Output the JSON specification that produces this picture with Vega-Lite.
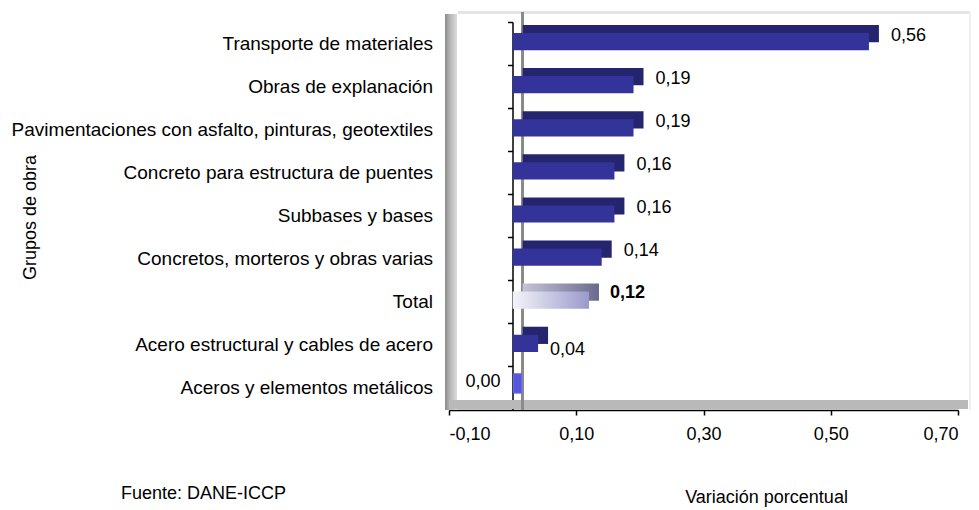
{
  "$schema": "https://vega.github.io/schema/vega-lite/v6.json",
  "width": 509,
  "height": 388,
  "autosize": {"type": "none"},
  "padding": {"left": 449, "top": 22, "right": 21, "bottom": 100},
  "background": "white",
  "title": {
    "text": "Fuente: DANE-ICCP",
    "orient": "bottom",
    "anchor": "start",
    "frame": "group",
    "dx": -328,
    "dy": -16,
    "baseline": "middle",
    "font": "Liberation Sans",
    "fontSize": 18,
    "fontWeight": "normal",
    "color": "black"
  },
  "data": {
    "values": [
      {"grupo": "Transporte de materiales", "valor": 0.56},
      {"grupo": "Obras de explanación", "valor": 0.19},
      {"grupo": "Pavimentaciones con asfalto, pinturas, geotextiles", "valor": 0.19},
      {"grupo": "Concreto para estructura de puentes", "valor": 0.16},
      {"grupo": "Subbases y bases", "valor": 0.16},
      {"grupo": "Concretos, morteros y obras varias", "valor": 0.14},
      {"grupo": "Total", "valor": 0.12},
      {"grupo": "Acero estructural y cables de acero", "valor": 0.04},
      {"grupo": "Aceros y elementos metálicos", "valor": 0.0}
    ]
  },
  "encoding": {
    "y": {
      "field": "grupo",
      "type": "nominal",
      "sort": null,
      "scale": {
        "paddingInner": 0,
        "paddingOuter": 0,
        "domain": [
          "Transporte de materiales",
          "Obras de explanación",
          "Pavimentaciones con asfalto, pinturas, geotextiles",
          "Concreto para estructura de puentes",
          "Subbases y bases",
          "Concretos, morteros y obras varias",
          "Total",
          "Acero estructural y cables de acero",
          "Aceros y elementos metálicos"
        ]
      },
      "axis": {
        "title": "Grupos de obra",
        "titleX": -482,
        "titleY": 195,
        "titleAngle": -90,
        "titleAlign": "center",
        "titleBaseline": "middle",
        "offset": -63.5,
        "bandPosition": 0,
        "tickSize": 5,
        "labelPadding": 75,
        "labelLimit": 1000,
        "labelFontSize": 19
      }
    }
  },
  "layer": [
    {
      "mark": {"type": "rect", "color": {"gradient": "linear", "x1": 0, "x2": 1, "y1": 0, "y2": 0, "stops": [{"offset": 0, "color": "#8c8c8c"}, {"offset": 0.4, "color": "#b4b4b4"}, {"offset": 1, "color": "#dcdcdc"}]}, "xOffset": -4, "x2Offset": 8, "yOffset": -8, "y2Offset": -10},
      "encoding": {"x": {"datum": -0.1, "type": "quantitative"}, "x2": {"datum": -0.1}, "y": null}
    },
    {
      "mark": {"type": "rule", "color": "#b9b9b9", "strokeWidth": 8, "yOffset": 16, "x2Offset": 10},
      "encoding": {"x": {"datum": -0.1, "type": "quantitative"}, "x2": {"datum": 0.7}, "y": {"datum": "Aceros y elementos metálicos"}}
    },
    {
      "mark": {"type": "rule", "color": "#e4e4e4", "strokeWidth": 2, "yOffset": -31, "xOffset": 9, "x2Offset": 12},
      "encoding": {"x": {"datum": -0.1, "type": "quantitative"}, "x2": {"datum": 0.7}, "y": {"datum": "Transporte de materiales"}}
    },
    {
      "mark": {"type": "rule", "color": "#efefef", "strokeWidth": 2, "xOffset": 12, "yOffset": -10, "y2Offset": -12},
      "encoding": {"x": {"datum": 0.7, "type": "quantitative"}, "y": null}
    },
    {
      "mark": {"type": "rule", "color": "#8a8a8a", "strokeWidth": 2, "xOffset": 10, "yOffset": -10, "y2Offset": -12},
      "encoding": {"x": {"datum": 0, "type": "quantitative"}, "y": null}
    },
    {
      "transform": [{"filter": "datum.grupo != 'Total'"}],
      "mark": {"type": "bar", "color": "#25256f", "height": {"band": 0.4}, "xOffset": 10, "x2Offset": 10, "yOffset": -10},
      "encoding": {"x": {"field": "valor", "type": "quantitative", "scale": {"domain": [-0.1, 0.7]}, "axis": {"values": [-0.1, 0.1, 0.3, 0.5, 0.7], "format": ".2f", "title": "Variación porcentual", "titleX": 317, "titleY": 87, "titleBaseline": "middle", "tickSize": 5, "labelPadding": 10, "grid": false}}, "x2": {"datum": 0}}
    },
    {
      "transform": [{"filter": "datum.grupo == 'Total'"}],
      "mark": {"type": "bar", "height": {"band": 0.4}, "xOffset": 10, "x2Offset": 10, "yOffset": -10, "color": {"gradient": "linear", "x1": 0, "x2": 1, "y1": 0, "y2": 0, "stops": [{"offset": 0, "color": "#c4c4d6"}, {"offset": 1, "color": "#6a6a8e"}]}},
      "encoding": {"x": {"field": "valor", "type": "quantitative"}, "x2": {"datum": 0}}
    },
    {
      "transform": [{"filter": "datum.grupo != 'Total'"}],
      "mark": {"type": "bar", "color": "#333399", "height": {"band": 0.4}, "yOffset": -2},
      "encoding": {"x": {"field": "valor", "type": "quantitative"}, "x2": {"datum": 0}}
    },
    {
      "transform": [{"filter": "datum.grupo == 'Total'"}],
      "mark": {"type": "bar", "height": {"band": 0.4}, "yOffset": -2, "color": {"gradient": "linear", "x1": 0, "x2": 1, "y1": 0, "y2": 0, "stops": [{"offset": 0, "color": "#f4f4fa"}, {"offset": 1, "color": "#9a9acb"}]}},
      "encoding": {"x": {"field": "valor", "type": "quantitative"}, "x2": {"datum": 0}}
    },
    {
      "transform": [{"filter": "datum.valor == 0"}],
      "mark": {"type": "bar", "height": {"band": 0.45}, "yOffset": -5, "xOffset": 1, "x2Offset": 9, "color": "#5555dd", "stroke": "#6a6af0", "strokeWidth": 1},
      "encoding": {"x": {"field": "valor", "type": "quantitative"}, "x2": {"datum": 0}}
    },
    {
      "transform": [{"filter": "datum.grupo != 'Total' && datum.valor > 0.05"}],
      "mark": {"type": "text", "align": "left", "baseline": "middle", "dx": 22, "dy": -8, "fontSize": 18, "font": "Liberation Sans", "color": "black"},
      "encoding": {"x": {"field": "valor", "type": "quantitative"}, "text": {"field": "valor", "type": "quantitative", "format": ".2f"}}
    },
    {
      "transform": [{"filter": "datum.grupo == 'Total'"}],
      "mark": {"type": "text", "align": "left", "baseline": "middle", "dx": 21, "dy": -9, "fontSize": 18, "fontWeight": "bold", "font": "Liberation Sans", "color": "black"},
      "encoding": {"x": {"field": "valor", "type": "quantitative"}, "text": {"field": "valor", "type": "quantitative", "format": ".2f"}}
    },
    {
      "transform": [{"filter": "datum.valor > 0 && datum.valor <= 0.05"}],
      "mark": {"type": "text", "align": "left", "baseline": "middle", "dx": 12, "dy": 5, "fontSize": 18, "font": "Liberation Sans", "color": "black"},
      "encoding": {"x": {"field": "valor", "type": "quantitative"}, "text": {"field": "valor", "type": "quantitative", "format": ".2f"}}
    },
    {
      "transform": [{"filter": "datum.valor == 0"}],
      "mark": {"type": "text", "align": "right", "baseline": "middle", "dx": -12, "dy": -6, "fontSize": 18, "font": "Liberation Sans", "color": "black"},
      "encoding": {"x": {"field": "valor", "type": "quantitative"}, "text": {"field": "valor", "type": "quantitative", "format": ".2f"}}
    }
  ],
  "config": {
    "locale": {"number": {"decimal": ",", "thousands": ".", "grouping": [3], "currency": ["$", ""], "minus": "-"}},
    "view": {"stroke": null},
    "axis": {
      "labelFont": "Liberation Sans",
      "titleFont": "Liberation Sans",
      "labelFontSize": 18,
      "titleFontSize": 18,
      "titleFontWeight": "normal",
      "labelColor": "black",
      "titleColor": "black",
      "domainColor": "black",
      "tickColor": "black",
      "domainWidth": 1.5,
      "tickWidth": 1.5,
      "grid": false
    }
  }
}
